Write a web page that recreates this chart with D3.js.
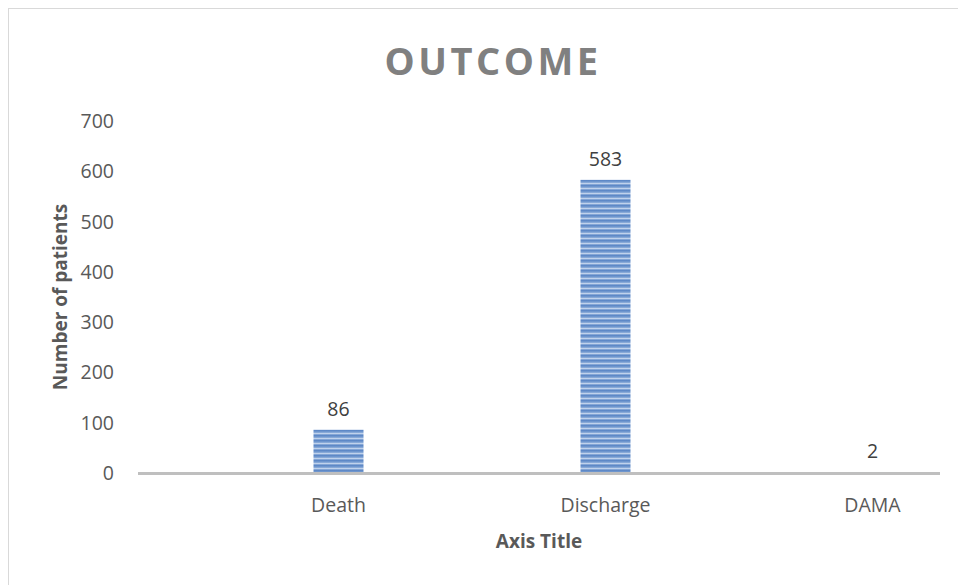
<!DOCTYPE html>
<html>
<head>
<meta charset="utf-8">
<script src="https://cdn.jsdelivr.net/npm/d3@7/dist/d3.min.js"></script>
<style>
  html, body { margin: 0; padding: 0; background: #fff; }
  svg { display: block; font-family: "Open Sans", "Liberation Sans", sans-serif; }
</style>
</head>
<body>
<svg id="chart" width="958" height="585"></svg>
<script>
// Patient outcome counts
const categories = ["Death", "Discharge", "DAMA"];
const patients = [86, 583, 2];
const yTicks = [0, 100, 200, 300, 400, 500, 600, 700];

const svg = d3.select("#chart");
const W = 958, H = 585;

// chart frame
svg.append("rect")
  .attr("x", 8.5).attr("y", 8.5)
  .attr("width", W + 20).attr("height", H + 20)
  .attr("fill", "#fff").attr("stroke", "#d9d9d9").attr("stroke-width", 1);

const plotTop = 121, plotBottom = 473, axisLeft = 138, axisRight = 940;

const x = d3.scaleBand().domain(categories).range([205, 1006]).padding(0);
const y = d3.scaleLinear().domain([0, 700]).range([plotBottom, plotTop]);

// striped fill for the bars
const defs = svg.append("defs");
const grad = defs.append("linearGradient")
  .attr("id", "stripeGrad").attr("x1", 0).attr("y1", 0).attr("x2", 0).attr("y2", 1);
grad.append("stop").attr("offset", "0%").attr("stop-color", "#5682c3");
grad.append("stop").attr("offset", "45%").attr("stop-color", "#7a9fd2");
grad.append("stop").attr("offset", "70%").attr("stop-color", "#c0d2ec");
grad.append("stop").attr("offset", "100%").attr("stop-color", "#6790ca");
const pat = defs.append("pattern")
  .attr("id", "stripes").attr("patternUnits", "userSpaceOnUse")
  .attr("width", 10).attr("height", 5);
pat.append("rect").attr("width", 10).attr("height", 5).attr("fill", "url(#stripeGrad)");

// title
svg.append("text")
  .attr("x", 493).attr("y", 75)
  .attr("text-anchor", "middle")
  .attr("font-size", 38).attr("font-weight", "bold")
  .attr("letter-spacing", 3.5)
  .attr("fill", "#808080")
  .text("OUTCOME");

// y tick labels
svg.append("g").selectAll("text").data(yTicks).join("text")
  .attr("x", 114).attr("y", d => y(d))
  .attr("dy", "0.36em")
  .attr("text-anchor", "end")
  .attr("font-size", 19.5).attr("fill", "#595959")
  .text(d => d);

// bars
const barW = 50;
svg.append("g").selectAll("rect").data(patients).join("rect")
  .attr("x", (d, i) => x(categories[i]) + x.bandwidth() / 2 - barW / 2)
  .attr("y", d => y(d))
  .attr("width", barW)
  .attr("height", d => y(0) - y(d))
  .attr("fill", "url(#stripes)");

// value labels
svg.append("g").selectAll("text").data(patients).join("text")
  .attr("x", (d, i) => x(categories[i]) + x.bandwidth() / 2)
  .attr("y", d => y(d) - 14)
  .attr("text-anchor", "middle")
  .attr("font-size", 19.5).attr("fill", "#404040")
  .text(d => d);

// category axis line
svg.append("line")
  .attr("x1", axisLeft).attr("x2", axisRight)
  .attr("y1", plotBottom + 0.5).attr("y2", plotBottom + 0.5)
  .attr("stroke", "#bfbfbf").attr("stroke-width", 3);

// category labels
svg.append("g").selectAll("text").data(categories).join("text")
  .attr("x", d => x(d) + x.bandwidth() / 2)
  .attr("y", 512)
  .attr("text-anchor", "middle")
  .attr("font-size", 19.5).attr("fill", "#595959")
  .text(d => d);

// axis titles
svg.append("text")
  .attr("x", (axisLeft + axisRight) / 2).attr("y", 548)
  .attr("text-anchor", "middle")
  .attr("font-size", 19).attr("font-weight", "bold").attr("fill", "#595959")
  .text("Axis Title");

svg.append("text")
  .attr("transform", "translate(67,297) rotate(-90)")
  .attr("text-anchor", "middle")
  .attr("font-size", 19).attr("font-weight", "bold").attr("fill", "#595959")
  .text("Number of patients");
</script>
</body>
</html>
